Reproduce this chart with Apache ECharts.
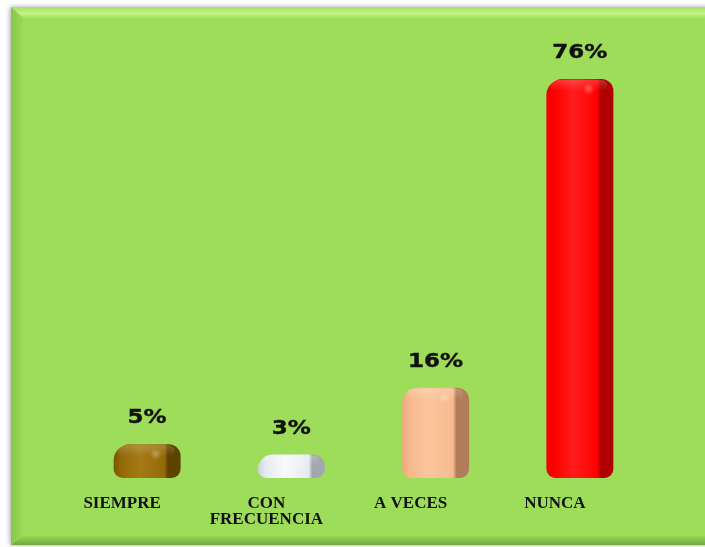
<!DOCTYPE html>
<html>
<head>
<meta charset="utf-8">
<script src="https://cdn.jsdelivr.net/npm/echarts@6/dist/echarts.min.js"></script>
<style>
  html, body { margin: 0; padding: 0; background: #ffffff; }
  #chart { width: 705px; height: 547px; }
</style>
</head>
<body>
<div id="chart"></div>
<script>
// Survey answers and their share of responses (%)
const categories = ['SIEMPRE', 'CON\nFRECUENCIA', 'A VECES', 'NUNCA'];
const percentages = [5, 3, 16, 76];

// Per-bar palette: front face edge, front face, highlight, side face
const barEdge = ['#7a5400', '#cfd4dc', '#eaa97c', '#ee0000'];
const barMain = ['#94690a', '#e6eaf0', '#f7ba8e', '#ff0000'];
const barLight = ['#a57a14', '#f8f9fb', '#fbc59c', '#ff1c1c'];
const barSide = ['#5e4200', '#a2a7af', '#b27c5a', '#b00000'];

const chart = echarts.init(document.getElementById('chart'), null, { renderer: 'canvas' });

function renderBar(params, api) {
  const idx = api.value(0);
  const val = api.value(1);
  const topPt = api.coord([idx, val]);
  const basePt = api.coord([idx, 0]);
  const cx = topPt[0];
  const w = 67;
  const x0 = cx - w / 2;
  const top = topPt[1];
  const bottom = basePt[1] + 8;
  const h = bottom - top;
  const i = params.dataIndex;
  return {
    type: 'group',
    children: [
      {
        type: 'rect',
        shape: { x: x0, y: top, width: w, height: h, r: [16, 12, 9, 9] },
        style: {
          fill: new echarts.graphic.LinearGradient(0, 0, 1, 0, [
            { offset: 0, color: barEdge[i] },
            { offset: 0.12, color: barMain[i] },
            { offset: 0.4, color: barLight[i] },
            { offset: 0.76, color: barMain[i] },
            { offset: 0.81, color: barSide[i] },
            { offset: 1, color: barSide[i] }
          ])
        }
      },
      {
        // rounded top face
        type: 'rect',
        shape: { x: x0 + 4, y: top + 1, width: w - 10, height: Math.min(11, h - 2), r: 8 },
        style: {
          fill: new echarts.graphic.LinearGradient(0, 0, 0, 1, [
            { offset: 0, color: 'rgba(255,255,255,0.18)' },
            { offset: 1, color: 'rgba(255,255,255,0)' }
          ])
        }
      },
      {
        // soft glint near the upper right of the front face
        type: 'circle',
        shape: { cx: x0 + w * 0.63, cy: top + 10, r: 6 },
        style: {
          fill: new echarts.graphic.RadialGradient(0.5, 0.5, 0.5, [
            { offset: 0, color: 'rgba(255,255,255,0.3)' },
            { offset: 1, color: 'rgba(255,255,255,0)' }
          ])
        }
      },
      {
        type: 'text',
        x: cx,
        y: top - 26,
        scaleX: 1.15,
        style: {
          text: val + '%',
          x: 0,
          y: 0,
          align: 'center',
          verticalAlign: 'middle',
          font: 'bold 20px "DejaVu Sans"',
          fill: '#111111',
          stroke: '#111111',
          lineWidth: 0.4
        }
      }
    ]
  };
}

chart.setOption({
  animation: false,
  backgroundColor: '#ffffff',
  graphic: [
    {
      type: 'rect',
      z: -10,
      shape: { x: 11, y: 7, width: 700, height: 538 },
      style: {
        fill: '#9edd5a',
        shadowColor: 'rgba(0,0,0,0.35)',
        shadowBlur: 5,
        shadowOffsetX: -1,
        shadowOffsetY: 0
      }
    },
    {
      // top bevel
      type: 'polygon',
      z: -9,
      shape: { points: [[11, 7], [705, 7], [705, 18], [23, 18]] },
      style: {
        fill: new echarts.graphic.LinearGradient(0, 0, 0, 1, [
          { offset: 0, color: '#a6e262' },
          { offset: 0.6, color: '#c3f286' },
          { offset: 1, color: '#a4e060' }
        ])
      }
    },
    {
      // left bevel
      type: 'polygon',
      z: -9,
      shape: { points: [[11, 7], [23, 18], [23, 536], [11, 545]] },
      style: {
        fill: new echarts.graphic.LinearGradient(0, 0, 1, 0, [
          { offset: 0, color: '#86c74a' },
          { offset: 1, color: '#9bda57' }
        ])
      }
    },
    {
      // bottom bevel
      type: 'polygon',
      z: -9,
      shape: { points: [[11, 545], [23, 536], [705, 536], [705, 545]] },
      style: {
        fill: new echarts.graphic.LinearGradient(0, 0, 0, 1, [
          { offset: 0, color: '#97d655' },
          { offset: 1, color: '#6fa83e' }
        ])
      }
    }
  ],
  grid: { left: 75, right: 53, top: 58.4, bottom: 77, containLabel: false },
  xAxis: {
    type: 'category',
    data: categories,
    axisLine: { show: false },
    axisTick: { show: false },
    axisLabel: {
      margin: 26,
      interval: 0,
      color: '#111111',
      fontFamily: '"Liberation Serif"',
      fontWeight: 'bold',
      fontSize: 17,
      lineHeight: 16,
      padding: [0, 50, 0, 0],
      verticalAlign: 'top'
    }
  },
  yAxis: {
    type: 'value',
    min: 0,
    max: 80,
    show: false,
    splitLine: { show: false }
  },
  series: [
    {
      type: 'custom',
      renderItem: renderBar,
      data: percentages.map((v, i) => [i, v])
    }
  ]
});
</script>
</body>
</html>
